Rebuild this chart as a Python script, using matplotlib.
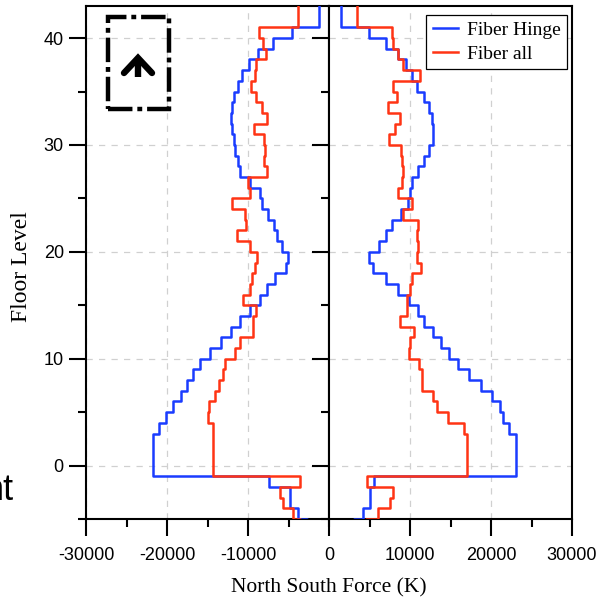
import numpy as np
import matplotlib
matplotlib.use('Agg')
import matplotlib.pyplot as plt
from matplotlib.ticker import MultipleLocator
from matplotlib.lines import Line2D
from matplotlib.patches import Rectangle

# floor intervals [f, f+1], listed from the top (42) down to -6
floors = list(range(42, -7, -1))

# left side (negative force)
left_hinge = [-1200, -1200, -4580, -6930, -8820, -9930, -10800, -11290, -11790, -11950,
              -12080, -11950, -11790, -11580, -11290, -10960, -9730, -8570, -8290, -7540,
              -6840, -6430, -5810, -5070, -5300, -6640, -7670, -8570, -9810, -10960,
              -12120, -13350, -14750, -15910, -16810, -17470, -18210, -19200, -20110, -20930,
              -21760, -21760, -21760, -21760, -7460, -4780, -4780, -3880, -2720]
left_all = [-3870, -3870, -8700, -8160, -7750, -8990, -9110, -9600, -9030, -8290,
            -7670, -9310, -8050, -7850, -8050, -7700, -10060, -9810, -11990, -10430,
            -10220, -11380, -9730, -8900, -9110, -9520, -9730, -10640, -8990, -9400,
            -9400, -10960, -11580, -12820, -13110, -13560, -14050, -14800, -14960, -14340,
            -14340, -14340, -14340, -14340, -3630, -6100, -5690, -4450, -3550]

# right side (positive force)
right_hinge = [1480, 1480, 4980, 7040, 8570, 9510, 10250, 10870, 11780, 12400,
               12730, 12890, 12810, 12400, 11780, 10960, 10250, 10050, 9800, 8900,
               7780, 7040, 6220, 4980, 5400, 7040, 8570, 9930, 10960, 11780,
               12810, 13840, 14790, 15900, 17340, 18780, 20100, 21050, 21460, 22280,
               23030, 23030, 23030, 23030, 5520, 5060, 5060, 4160, 3100]
right_all = [3460, 3460, 7740, 7950, 8570, 9100, 11240, 7870, 8360, 7330,
             8810, 8200, 7450, 8900, 9020, 9180, 9020, 8570, 10210, 9180,
             10960, 10830, 10960, 10830, 11400, 10200, 10050, 9680, 9600, 8790,
             10500, 10050, 9930, 11060, 11470, 11470, 12870, 13280, 14680, 16640,
             17050, 17050, 17050, 17050, 4690, 7950, 7580, 6010, 4600]

blue = '#1a3cff'
red = '#ff3414'


def stair(values):
    # each floor value held constant between f and f+1
    xs = np.repeat(values, 2)
    ys = np.array([[f + 1, f] for f in floors]).ravel()
    return xs, ys


plt.rcParams['font.family'] = 'Liberation Sans'
plt.rcParams['axes.unicode_minus'] = False

fig = plt.figure(figsize=(5.96, 6.02), dpi=100)
axL = fig.add_axes([86/596, 1 - 519/602, 243/596, 513/602])
axR = fig.add_axes([329/596, 1 - 519/602, 243/596, 513/602], sharey=axL)

for ax, hv, av in [(axL, left_hinge, left_all), (axR, right_hinge, right_all)]:
    x, y = stair(hv)
    ax.plot(x, y, color=blue, lw=1.8, label='Fiber Hinge', zorder=3)
    x, y = stair(av)
    ax.plot(x, y, color=red, lw=1.8, label='Fiber all', zorder=3)
    ax.grid(True, which='major', color='#d0d0d0', ls=(0, (5, 5)), lw=0.9)
    ax.set_axisbelow(True)
    for s in ax.spines.values():
        s.set_linewidth(1.5)
    ax.tick_params(which='major', direction='out', length=12, width=1.5, labelsize=13)
    ax.tick_params(which='minor', direction='out', length=6, width=1.5)
    ax.tick_params(axis='x', pad=8)
    ax.tick_params(axis='y', pad=4)
    ax.xaxis.set_minor_locator(MultipleLocator(5000))
    ax.yaxis.set_minor_locator(MultipleLocator(5))

axL.set_xlim(-30000, 0)
axR.set_xlim(0, 30000)
axL.set_ylim(-5, 43)
axL.set_xticks([-30000, -20000, -10000, 0])
axR.set_xticks([10000, 20000, 30000])
axL.set_yticks([0, 10, 20, 30, 40])
axL.tick_params(axis='y', which='both', right=False)
axR.tick_params(axis='y', which='both', labelleft=False, right=False)

leg = axR.legend(loc='upper right', bbox_to_anchor=(0.981, 0.983), borderaxespad=0,
                 prop={'family': 'Liberation Serif', 'size': 14}, fancybox=False,
                 framealpha=1, edgecolor='black', handlelength=1.3, handletextpad=0.45,
                 borderpad=0.35, labelspacing=0.3)
leg.get_frame().set_linewidth(0.9)

fig.text(329/596, 1 - 588/602, 'North South Force (K)', ha='center', va='center',
         family='Liberation Serif', fontsize=15.5)
fig.text(22/596, 1 - 267/602, 'Floor Level', ha='center', va='center', rotation=90,
         family='Liberation Serif', fontsize=17)

# clipped word at the left edge
fig.text(13.5/596, 1 - 500/602, 'nt', ha='right', va='baseline', fontsize=26)

# compass icon in the upper left corner
fig.add_artist(Rectangle((108/596, 1 - 109/602), 61/596, 92/602, transform=fig.transFigure,
                         fill=False, ec='black', lw=3.2, ls=(0, (5.5, 1.1, 1.1, 1.1))))
px = lambda x: x / 596
py = lambda y: 1 - y / 602
fig.add_artist(Line2D([px(124), px(138), px(152)], [py(73), py(58), py(73)],
                      transform=fig.transFigure, color='black', lw=4.6,
                      solid_capstyle='round', solid_joinstyle='miter'))
fig.add_artist(Line2D([px(138), px(138)], [py(60), py(77)], transform=fig.transFigure,
                      color='black', lw=4.6, solid_capstyle='butt'))

fig.savefig('out.png', dpi=100)
